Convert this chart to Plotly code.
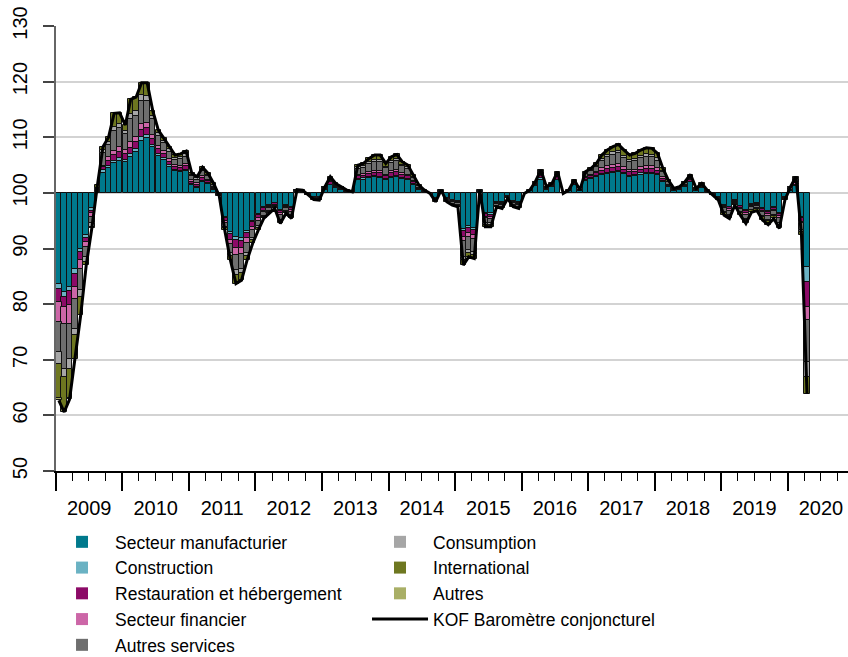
import pandas as pd
import plotly.graph_objects as go

BASE = 100
months = pd.date_range("2009-01-01", "2020-04-01", freq="MS").strftime("%Y-%m-%d").tolist()

manufacturier = [
    -16.3, -17.8, -16.9, -13.6, -10.0, -7.6, -2.8, 0.2, 3.5, 4.5, 5.3, 5.8,
    5.5, 6.4, 7.3, 9.4, 9.8, 8.2, 6.6, 6.0, 4.7, 3.9, 3.8, 4.0,
    1.5, 0.9, 2.0, 1.6, 0.6, -0.2, -4.4, -7.0, -8.0, -8.1, -6.8, -5.0,
    -3.8, -2.6, -2.2, -1.8, -3.0, -2.2, -2.5, 0.2, 0.2, -0.2, -0.7, -0.7,
    0.5, 1.4, 0.8, 0.5, 0.2, 0.1, 2.3, 2.4, 2.6, 2.8, 2.7, 2.3,
    2.7, 2.9, 2.5, 2.3, 1.5, 0.6, 0.2, -0.1, -0.9, 0.2, -0.9, -1.3,
    -1.5, -6.5, -6.0, -6.3, 0.2, -3.6, -3.7, -1.6, -1.7, -0.6, -1.5, -1.7,
    -0.1, 0.3, 1.2, 2.4, 0.6, 1.0, 2.3, -0.1, 0.3, 1.4, 0.3, 2.2,
    2.5, 2.8, 3.2, 3.4, 3.6, 3.8, 3.4, 2.9, 3.0, 3.3, 3.4, 3.4,
    3.2, 2.0, 1.1, 0.4, 0.6, 1.1, 1.9, 0.4, 0.9, 0.2, -0.2, -0.7,
    -2.2, -2.5, -1.3, -2.3, -3.0, -2.0, -1.9, -2.8, -3.2, -2.6, -3.6, -0.7,
    0.3, 1.2, -4.3, -13.3,
]
construction = [
    -0.9, -0.9, -0.8, -0.9, -0.6, -0.6, -0.4, 0.1, 0.6, 0.4, 0.5, 0.5,
    0.4, 0.5, 0.6, 0.6, 0.6, 0.4, 0.4, 0.3, 0.3, 0.2, 0.2, 0.2,
    0.1, 0.1, 0.2, 0.1, 0.1, 0.0, -0.2, -0.4, -0.5, -0.5, -0.4, -0.3,
    -0.2, -0.2, -0.1, -0.1, -0.2, -0.1, -0.2, 0.1, 0.0, 0.0, 0.0, 0.0,
    0.1, 0.1, 0.1, 0.1, 0.0, 0.0, 0.2, 0.2, 0.2, 0.2, 0.2, 0.2,
    0.2, 0.2, 0.2, 0.2, 0.1, 0.1, 0.0, 0.0, -0.1, 0.0, -0.1, -0.1,
    -0.1, -0.4, -0.4, -0.4, 0.0, -0.2, -0.2, -0.1, -0.1, 0.0, -0.1, -0.1,
    0.0, 0.0, 0.1, 0.2, 0.1, 0.1, 0.1, 0.0, 0.0, 0.1, 0.0, 0.1,
    0.2, 0.2, 0.2, 0.2, 0.2, 0.2, 0.2, 0.2, 0.2, 0.2, 0.2, 0.2,
    0.2, 0.1, 0.1, 0.0, 0.0, 0.1, 0.1, 0.0, 0.1, 0.0, 0.0, 0.0,
    -0.1, -0.1, -0.1, -0.1, -0.2, -0.1, -0.1, -0.1, -0.2, -0.1, -0.2, 0.0,
    0.0, 0.1, -0.3, -2.7,
]
restauration = [
    -2.4, -1.8, -2.5, -2.4, -1.5, -0.6, -0.5, 0.1, 0.6, 0.9, 1.0, 1.1,
    1.0, 1.2, 1.2, 1.3, 1.2, 1.0, 0.8, 0.7, 0.6, 0.5, 0.5, 0.6,
    0.4, 0.4, 0.5, 0.4, 0.2, -0.1, -0.5, -1.0, -1.4, -1.3, -1.0, -0.8,
    -0.6, -0.4, -0.3, -0.2, -0.5, -0.3, -0.4, 0.1, 0.1, -0.1, -0.1, -0.1,
    0.1, 0.4, 0.2, 0.1, 0.1, 0.0, 0.5, 0.5, 0.6, 0.6, 0.6, 0.5,
    0.6, 0.6, 0.5, 0.5, 0.3, 0.1, 0.1, 0.0, -0.1, 0.1, -0.1, -0.2,
    -0.2, -1.0, -0.9, -0.9, 0.1, -0.5, -0.5, -0.2, -0.2, -0.1, -0.2, -0.2,
    0.0, 0.1, 0.2, 0.4, 0.1, 0.2, 0.4, 0.0, 0.1, 0.2, 0.1, 0.4,
    0.4, 0.5, 0.6, 0.7, 0.7, 0.7, 0.6, 0.6, 0.6, 0.6, 0.7, 0.7,
    0.6, 0.4, 0.2, 0.1, 0.1, 0.2, 0.3, 0.1, 0.2, 0.1, 0.0, -0.1,
    -0.3, -0.3, -0.1, -0.3, -0.4, -0.2, -0.2, -0.3, -0.4, -0.3, -0.4, -0.1,
    0.1, 0.2, -0.6, -4.5,
]
financier = [
    -3.6, -3.0, -3.3, -2.1, -1.5, -0.9, -0.7, 0.1, 0.2, 0.6, 0.7, 0.8,
    0.8, 1.0, 1.0, 1.1, 1.0, 0.8, 0.6, 0.5, 0.5, 0.4, 0.4, 0.4,
    0.3, 0.3, 0.4, 0.3, 0.2, -0.1, -0.3, -0.8, -1.2, -1.1, -0.8, -0.6,
    -0.4, -0.3, -0.2, -0.2, -0.3, -0.2, -0.3, 0.0, 0.0, 0.0, -0.1, -0.1,
    0.1, 0.2, 0.1, 0.1, 0.0, 0.0, 0.3, 0.3, 0.4, 0.4, 0.4, 0.3,
    0.4, 0.4, 0.4, 0.3, 0.2, 0.1, 0.0, 0.0, -0.1, 0.1, -0.1, -0.1,
    -0.1, -0.8, -0.7, -0.7, 0.0, -0.3, -0.3, -0.1, -0.1, -0.1, -0.1, -0.1,
    0.0, 0.0, 0.1, 0.2, 0.1, 0.1, 0.2, 0.0, 0.0, 0.1, 0.0, 0.2,
    0.2, 0.3, 0.4, 0.5, 0.5, 0.5, 0.5, 0.4, 0.4, 0.5, 0.5, 0.5,
    0.4, 0.3, 0.1, 0.0, 0.1, 0.1, 0.2, 0.0, 0.1, 0.0, 0.0, -0.1,
    -0.2, -0.3, -0.1, -0.2, -0.3, -0.2, -0.2, -0.3, -0.3, -0.3, -0.3, -0.1,
    0.1, 0.2, -0.3, -2.4,
]
autres_services = [
    -5.4, -8.1, -6.3, -5.4, -3.9, -1.8, -1.1, 0.2, 2.2, 2.2, 3.6, 3.4,
    2.8, 4.2, 3.8, 4.2, 4.0, 2.8, 1.8, 1.4, 1.3, 1.0, 1.2, 1.3,
    0.7, 0.7, 0.9, 0.6, 0.3, -0.1, -0.7, -1.6, -2.8, -2.6, -1.8, -1.4,
    -1.0, -0.6, -0.5, -0.3, -0.8, -0.5, -0.6, 0.1, 0.1, -0.1, -0.2, -0.2,
    0.2, 0.5, 0.3, 0.2, 0.1, 0.1, 1.0, 1.1, 1.4, 1.6, 1.6, 1.1,
    1.5, 1.6, 1.2, 1.0, 0.6, 0.3, 0.1, 0.0, -0.2, 0.1, -0.2, -0.3,
    -0.3, -2.8, -2.3, -2.3, 0.1, -0.9, -0.8, -0.3, -0.4, -0.1, -0.3, -0.4,
    0.0, 0.1, 0.2, 0.5, 0.1, 0.2, 0.4, 0.0, 0.1, 0.3, 0.1, 0.5,
    0.6, 0.8, 1.3, 1.6, 1.8, 1.9, 1.6, 1.4, 1.5, 1.6, 1.7, 1.6,
    1.4, 0.9, 0.4, 0.2, 0.2, 0.3, 0.5, 0.2, 0.2, 0.1, -0.1, -0.2,
    -0.6, -0.7, -0.3, -0.5, -0.8, -0.5, -0.4, -0.7, -0.8, -0.7, -0.9, -0.2,
    0.4, 0.8, -1.2, -7.5,
]
consumption = [
    -2.1, -1.5, -1.8, -1.2, -1.2, -0.9, -0.6, 0.1, 0.6, 0.6, 0.8, 0.8,
    0.6, 0.9, 0.9, 1.0, 0.9, 0.6, 0.5, 0.4, 0.4, 0.3, 0.4, 0.4,
    0.2, 0.2, 0.3, 0.2, 0.1, 0.0, -0.3, -0.5, -0.9, -0.8, -0.5, -0.4,
    -0.3, -0.2, -0.2, -0.1, -0.3, -0.2, -0.2, 0.1, 0.1, 0.0, 0.0, -0.1,
    0.1, 0.1, 0.1, 0.1, 0.1, 0.0, 0.3, 0.3, 0.4, 0.4, 0.4, 0.3,
    0.4, 0.4, 0.3, 0.3, 0.2, 0.1, 0.1, 0.0, -0.1, 0.0, -0.1, -0.1,
    -0.1, -0.6, -0.5, -0.5, 0.1, -0.3, -0.3, -0.1, -0.1, -0.1, -0.1, -0.1,
    0.0, 0.0, 0.1, 0.2, 0.1, 0.1, 0.2, 0.0, 0.0, 0.1, 0.0, 0.2,
    0.2, 0.3, 0.4, 0.4, 0.5, 0.5, 0.4, 0.4, 0.4, 0.4, 0.4, 0.4,
    0.4, 0.2, 0.1, 0.0, 0.0, 0.1, 0.1, 0.0, 0.1, 0.0, 0.0, 0.0,
    -0.2, -0.2, -0.1, -0.2, -0.2, -0.1, -0.1, -0.2, -0.2, -0.2, -0.3, 0.0,
    0.1, 0.2, -0.4, -2.7,
]
international = [
    -6.1, -5.8, -5.3, -4.2, -3.3, -0.6, -0.3, 0.6, 0.6, 0.8, 2.4, 2.0,
    1.1, 2.6, 2.4, 2.2, 2.3, 1.0, 0.6, 0.5, 0.5, 0.5, 0.5, 0.6,
    0.3, 0.3, 0.3, 0.3, 0.2, 0.0, -0.3, -0.8, -1.5, -1.3, -0.8, -0.6,
    -0.4, -0.3, -0.2, -0.1, -0.4, -0.2, -0.4, 0.0, 0.0, 0.0, -0.1, -0.1,
    0.0, 0.2, 0.1, 0.0, 0.0, 0.0, 0.4, 0.5, 0.6, 0.8, 0.9, 0.6,
    0.7, 0.8, 0.5, 0.4, 0.3, 0.1, 0.0, 0.0, -0.1, 0.0, -0.1, -0.1,
    -0.2, -0.9, -0.7, -0.7, 0.0, -0.3, -0.3, -0.1, -0.2, 0.0, -0.2, -0.2,
    0.0, 0.0, 0.1, 0.2, 0.0, 0.0, 0.2, 0.0, 0.0, 0.1, 0.0, 0.2,
    0.3, 0.4, 0.7, 0.9, 1.0, 1.1, 1.0, 0.9, 1.0, 1.1, 1.2, 1.2,
    0.9, 0.5, 0.3, 0.1, 0.1, 0.1, 0.2, 0.1, 0.1, 0.1, -0.1, -0.2,
    -0.4, -0.5, -0.2, -0.4, -0.6, -0.4, -0.3, -0.5, -0.6, -0.4, -0.7, -0.2,
    0.1, 0.2, -0.4, -3.0,
]
autres = [
    -0.5, -0.5, -0.2, 0, 0, 0, 0, 0, 0, 0, 0, 0,
    0, 0, 0, 0, 0, 0, 0, 0, 0, 0, 0, 0,
    0, 0, 0, 0, 0, 0, 0, 0, 0, 0, 0, 0,
    0, 0, 0, 0, 0, 0, 0, 0, 0, 0, 0, 0,
    0, 0, 0, 0, 0, 0, 0, 0, 0, 0, 0, 0,
    0, 0, 0, 0, 0, 0, 0, 0, 0, 0, 0, 0,
    0, 0, 0, 0, 0, 0, 0, 0, 0, 0, 0, 0,
    0, 0, 0, 0, 0, 0, 0, 0, 0, 0, 0, 0,
    0, 0, 0, 0, 0, 0, 0, 0, 0, 0, 0, 0,
    0, 0, 0, 0, 0, 0, 0, 0, 0, 0, 0, 0,
    0, 0, 0, 0, 0, 0, 0, 0, 0, 0, 0, 0,
    0, 0, 0, 0,
]
kof = [
    62.7, 60.6, 62.9, 70.2, 78.0, 87.0, 93.6, 101.4, 108.3, 110.0, 114.3, 114.4,
    112.2, 116.8, 117.2, 119.8, 119.8, 114.8, 111.3, 109.8, 108.3, 106.8, 107.0, 107.5,
    103.5, 102.9, 104.6, 103.5, 101.7, 99.5, 93.3, 87.9, 83.7, 84.3, 87.9, 90.9,
    93.3, 95.4, 96.3, 97.2, 94.5, 96.3, 95.4, 100.6, 100.5, 99.6, 98.8, 98.7,
    101.1, 102.9, 101.7, 101.1, 100.5, 100.2, 105.0, 105.3, 106.2, 106.8, 106.8, 105.3,
    106.5, 106.9, 105.6, 105.0, 103.2, 101.4, 100.5, 99.9, 98.4, 100.5, 98.4, 97.8,
    97.5, 87.0, 88.5, 88.2, 100.5, 93.9, 93.9, 97.5, 97.2, 99.0, 97.5, 97.2,
    99.9, 100.5, 102.0, 104.1, 101.1, 101.7, 103.8, 99.9, 100.5, 102.3, 100.5, 103.8,
    104.4, 105.3, 106.8, 107.7, 108.3, 108.7, 107.7, 106.8, 107.1, 107.7, 108.1, 108.0,
    107.1, 104.4, 102.3, 100.8, 101.1, 102.0, 103.3, 100.8, 101.7, 100.5, 99.6, 98.7,
    96.0, 95.4, 97.8, 96.0, 94.5, 96.5, 96.8, 95.1, 94.3, 95.4, 93.6, 98.7,
    101.1, 102.9, 92.5, 63.9,
]

series = [
    ("Secteur manufacturier", manufacturier, "#00798C", "legend"),
    ("Construction", construction, "#6AB2C3", "legend"),
    ("Restauration et hébergement", restauration, "#8C0A67", "legend"),
    ("Secteur financier", financier, "#CC66A7", "legend"),
    ("Autres services", autres_services, "#6E6E6E", "legend"),
    ("Consumption", consumption, "#A6A6A6", "legend2"),
    ("International", international, "#6E7720", "legend2"),
    ("Autres", autres, "#A9AF66", "legend2"),
]

FONT = "Liberation Sans, Arial, sans-serif"
fig = go.Figure()

pos_top = [BASE] * len(months)
neg_top = [BASE] * len(months)
month_ms = 30.4 * 24 * 3600 * 1000

for name, vals, color, leg in series:
    bases, ys = [], []
    for i, v in enumerate(vals):
        if v > 0:
            bases.append(pos_top[i]); ys.append(v); pos_top[i] += v
        elif v < 0:
            bases.append(neg_top[i]); ys.append(v); neg_top[i] += v
        else:
            bases.append(None); ys.append(None)
    fig.add_trace(go.Bar(
        x=months, y=ys, base=bases, name=name, showlegend=False,
        xperiod="M1", xperiodalignment="middle", width=month_ms,
        marker=dict(color=color, line=dict(color="#111111", width=1)),
    ))
    # legend entry (plain square, no outline)
    fig.add_trace(go.Bar(
        x=[None], y=[None], name=name, legend=leg,
        marker=dict(color=color, line=dict(width=0)),
    ))

fig.add_trace(go.Scatter(
    x=months, y=kof, mode="lines", name="KOF Baromètre conjoncturel",
    xperiod="M1", xperiodalignment="middle", legend="legend2",
    line=dict(color="black", width=3),
))

fig.add_shape(type="line", xref="paper", x0=0, x1=1, yref="y", y0=BASE, y1=BASE,
              line=dict(color="#444444", width=1.5), layer="below")

fig.update_layout(
    width=848, height=657,
    margin=dict(l=56, r=0, t=26, b=186, autoexpand=False),
    barmode="overlay", bargap=0,
    plot_bgcolor="white", paper_bgcolor="white",
    font=dict(family=FONT, size=20, color="black"),
    xaxis=dict(
        type="date", range=["2009-01-01", "2020-11-27"], automargin=False,
        tick0="2009-01-01", dtick="M12", tickformat="%Y", ticklabelmode="period",
        ticks="outside", ticklen=18, tickwidth=1.5, tickcolor="black",
        minor=dict(dtick="M3", ticks="outside", ticklen=8, tickwidth=1, tickcolor="black"),
        showgrid=False, showline=True, linecolor="black", linewidth=2,
        tickfont=dict(size=20, color="black"),
    ),
    yaxis=dict(
        range=[50, 130], dtick=10, tick0=50, automargin=False,
        ticks="outside", ticklen=11, tickwidth=1.5, tickcolor="#444444",
        showline=True, linecolor="#666666", linewidth=1.5,
        showgrid=True, gridcolor="#D3D3D3", gridwidth=1.5,
        tickangle=-90, ticklabelstandoff=8,
        tickfont=dict(size=20, color="black"), zeroline=False,
    ),
    legend=dict(x=-0.0088, xanchor="left", y=-0.119, yanchor="top", itemwidth=56,
                font=dict(size=17.5), bgcolor="rgba(0,0,0,0)", tracegroupgap=0),
    legend2=dict(x=0.3927, xanchor="left", y=-0.119, yanchor="top", itemwidth=56,
                 font=dict(size=17.5), bgcolor="rgba(0,0,0,0)", tracegroupgap=0),
)

fig.write_html(
    "out.html",
    config={"displayModeBar": False},
    post_script="document.body.style.margin='0px';document.body.style.overflow='hidden';",
)
